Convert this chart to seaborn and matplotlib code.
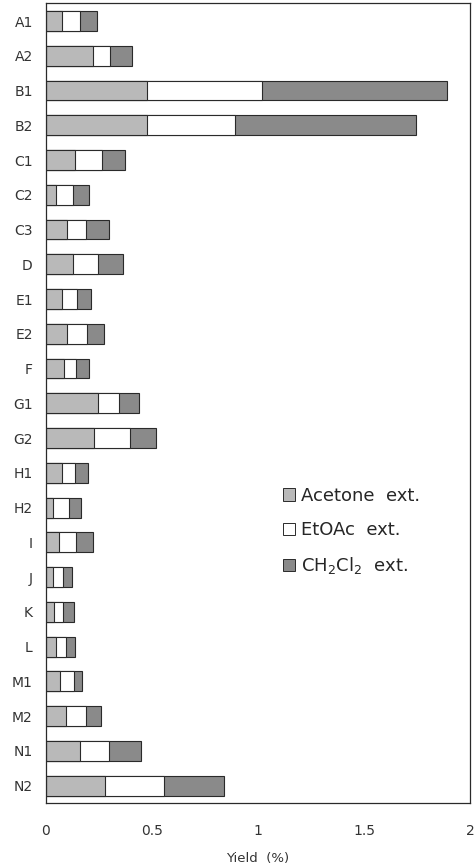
import numpy as np
import pandas as pd
import matplotlib
matplotlib.use("Agg")
import matplotlib.pyplot as plt
from matplotlib.patches import Patch
import seaborn as sns

# Sample codes (top to bottom)
samples = ["A1", "A2", "B1", "B2", "C1", "C2", "C3", "D", "E1", "E2", "F",
           "G1", "G2", "H1", "H2", "I", "J", "K", "L", "M1", "M2", "N1", "N2"]

# Extract yields (%) for each solvent fraction
acetone = [0.074, 0.220, 0.475, 0.475, 0.137, 0.046, 0.100, 0.129, 0.074, 0.097, 0.085,
           0.247, 0.228, 0.077, 0.035, 0.063, 0.035, 0.039, 0.046, 0.066, 0.093, 0.160, 0.278]
etoac = [0.086, 0.082, 0.542, 0.418, 0.126, 0.080, 0.087, 0.118, 0.071, 0.095, 0.057,
         0.097, 0.168, 0.061, 0.075, 0.079, 0.047, 0.043, 0.047, 0.066, 0.096, 0.139, 0.279]
ch2cl2 = [0.079, 0.102, 0.873, 0.852, 0.110, 0.075, 0.112, 0.115, 0.066, 0.082, 0.059,
          0.096, 0.123, 0.062, 0.054, 0.078, 0.039, 0.050, 0.044, 0.038, 0.069, 0.148, 0.283]

x_ticks = [0, 0.5, 1, 1.5, 2]
x_ticklabels = ["0", "0.5", "1", "1.5", "2"]

df = pd.DataFrame({"sample": samples, "acetone": acetone, "etoac": etoac, "ch2cl2": ch2cl2})
df["cum_ace"] = df["acetone"]
df["cum_eto"] = df["acetone"] + df["etoac"]
df["cum_all"] = df["cum_eto"] + df["ch2cl2"]

sns.set_style("white")
plt.rcParams["font.family"] = ["DejaVu Sans"]
plt.rcParams["mathtext.default"] = "regular"

c_ace = "#b9b9b9"
c_eto = "#ffffff"
c_dcm = "#8a8a8a"
ink = "#2a2a2a"

fig = plt.figure(figsize=(4.74, 8.68), dpi=100)
ax = fig.add_axes([46 / 474, 1 - 803 / 868, 424 / 474, 800 / 868])

bar_kw = dict(orient="h", width=0.57, edgecolor=ink, linewidth=0.8, ax=ax)
# Stacked bars: draw cumulative totals from longest to shortest
sns.barplot(data=df, x="cum_all", y="sample", color=c_dcm, saturation=1, **bar_kw)
sns.barplot(data=df, x="cum_eto", y="sample", color=c_eto, saturation=1, **bar_kw)
sns.barplot(data=df, x="cum_ace", y="sample", color=c_ace, saturation=1, **bar_kw)

ax.set_xlim(0, 2)
ax.set_ylim(len(samples) - 0.5, -0.52)
ax.set_xticks(x_ticks)
ax.set_xticklabels(x_ticklabels)
ax.tick_params(axis="x", direction="in", length=3, width=0.8, pad=15, labelsize=10,
               colors=ink, labelcolor="#333333")
ax.tick_params(axis="y", length=0, pad=9.5, labelsize=10, labelcolor="#333333")
ax.set_xlabel("Yield  (%)", fontsize=9.5, labelpad=10, color="#333333")
ax.set_ylabel("")
for s in ax.spines.values():
    s.set_visible(True)
    s.set_color(ink)
    s.set_linewidth(0.9)

handles = [
    Patch(facecolor=c_ace, edgecolor=ink, linewidth=0.7, label="Acetone  ext."),
    Patch(facecolor=c_eto, edgecolor=ink, linewidth=0.7, label="EtOAc  ext."),
    Patch(facecolor=c_dcm, edgecolor=ink, linewidth=0.7, label="CH$_2$Cl$_2$  ext."),
]
ax.legend(handles=handles, loc="upper left", bbox_to_anchor=(0.538, 0.4065),
          frameon=False, fontsize=13, borderpad=0, handlelength=0.65,
          handleheight=0.65, handletextpad=0.35, labelspacing=0.9)

fig.savefig("out.png", dpi=100)
